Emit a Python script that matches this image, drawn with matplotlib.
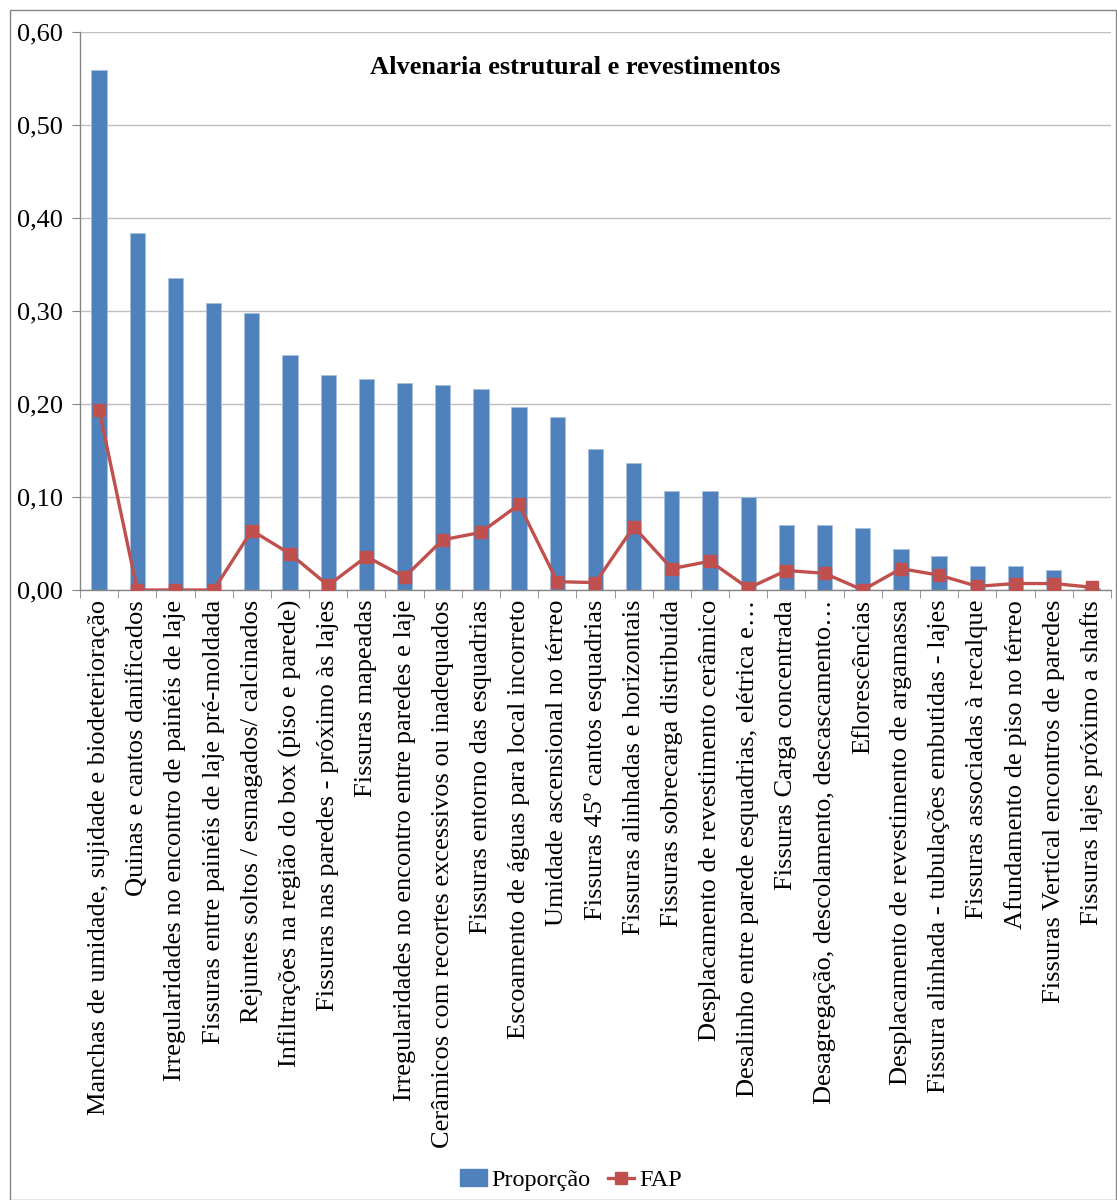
import matplotlib
matplotlib.use("Agg")
import matplotlib.pyplot as plt
from matplotlib.patches import Rectangle, Patch
from matplotlib.lines import Line2D
import numpy as np

plt.rcParams['font.family'] = ['Liberation Serif', 'DejaVu Serif']

categories = [
    "Manchas de umidade, sujidade e biodeterioração",
    "Quinas e cantos danificados",
    "Irregularidades no encontro de painéis de laje",
    "Fissuras entre painéis de laje pré-moldada",
    "Rejuntes soltos / esmagados/ calcinados",
    "Infiltrações na região do box (piso e parede)",
    "Fissuras nas paredes - próximo às lajes",
    "Fissuras mapeadas",
    "Irregularidades no encontro entre paredes e laje",
    "Cerâmicos com recortes excessivos ou inadequados",
    "Fissuras entorno das esquadrias",
    "Escoamento de águas para local incorreto",
    "Umidade ascensional no térreo",
    "Fissuras 45º cantos esquadrias",
    "Fissuras alinhadas e horizontais",
    "Fissuras sobrecarga distribuída",
    "Desplacamento de revestimento cerâmico",
    "Desalinho entre parede esquadrias, elétrica e…",
    "Fissuras Carga concentrada",
    "Desagregação, descolamento, descascamento…",
    "Eflorescências",
    "Desplacamento de revestimento de argamassa",
    "Fissura alinhada - tubulações embutidas - lajes",
    "Fissuras associadas à recalque",
    "Afundamento de piso no térreo",
    "Fissuras Vertical encontros de paredes",
    "Fissuras lajes próximo a shafts",
]

proporcao = [0.559, 0.384, 0.335, 0.309, 0.298, 0.253, 0.231, 0.227, 0.223,
             0.220, 0.216, 0.197, 0.186, 0.152, 0.137, 0.107, 0.107, 0.100,
             0.070, 0.070, 0.067, 0.044, 0.037, 0.026, 0.026, 0.022, 0.002]

fap = [0.194, 0.000, 0.000, 0.000, 0.064, 0.039, 0.005, 0.036, 0.014,
       0.054, 0.062, 0.092, 0.009, 0.008, 0.068, 0.023, 0.031, 0.002,
       0.021, 0.018, 0.000, 0.023, 0.016, 0.004, 0.007, 0.007, 0.003]

yticks = [0.0, 0.1, 0.2, 0.3, 0.4, 0.5, 0.6]
ytick_labels = ["0,00", "0,10", "0,20", "0,30", "0,40", "0,50", "0,60"]

bar_color = "#4F81BD"
line_color = "#C0504D"
grid_color = "#BFBFBF"

fig = plt.figure(figsize=(11.17, 12.0), dpi=100)
ax = fig.add_axes([0.0716, 0.5083, 0.9230, 0.4650])

x = np.arange(len(categories))
ax.bar(x, proporcao, width=0.40, color=bar_color, edgecolor="#A7C0DE",
       linewidth=0.6, zorder=2, label="Proporção")
ax.plot(x, fap, color=line_color, linewidth=2.4, marker="s", markersize=9,
        markerfacecolor=line_color, markeredgecolor=line_color, zorder=3,
        label="FAP")

ax.set_xlim(-0.5, len(categories) - 0.5)
ax.set_ylim(0, 0.6)
ax.set_yticks(yticks)
ax.set_yticklabels(ytick_labels, fontsize=19)
ax.yaxis.grid(True, color=grid_color, linewidth=1.0, zorder=0)
ax.set_axisbelow(True)

ax.set_xticks(x)
ax.set_xticklabels(categories, rotation=90, ha="center", va="top", fontsize=19)
ax.tick_params(axis="x", which="major", length=0, pad=7)
ax.set_xticks(np.arange(len(categories) + 1) - 0.5, minor=True)
ax.tick_params(axis="x", which="minor", length=6, color="#868686", direction="out")
ax.tick_params(axis="y", length=6, color="#868686", direction="out", pad=6)

for side in ("top", "right"):
    ax.spines[side].set_visible(False)
for side in ("left", "bottom"):
    ax.spines[side].set_color("#868686")
    ax.spines[side].set_linewidth(1.0)

fig.text(575 / 1117, 1 - 68 / 1200, "Alvenaria estrutural e revestimentos",
         ha="center", va="center", fontsize=19, fontweight="bold")

handles = [Patch(facecolor=bar_color, edgecolor=bar_color),
           Line2D([0], [0], color=line_color, linewidth=2.4, marker="s",
                  markersize=9)]
fig.legend(handles, ["Proporção", "FAP"], loc="center",
           bbox_to_anchor=(571 / 1117, 1 - 1180 / 1200), ncol=2, frameon=False,
           fontsize=17.5, handlelength=1.1, handletextpad=0.2, columnspacing=0.7)

fig.patches.append(Rectangle((10 / 1117, 0.0), 1 - 10 / 1117 - 0.001, 1 - 10 / 1200,
                             transform=fig.transFigure, fill=False,
                             edgecolor="#868686", linewidth=1.0))

fig.savefig("out.png", dpi=100)
